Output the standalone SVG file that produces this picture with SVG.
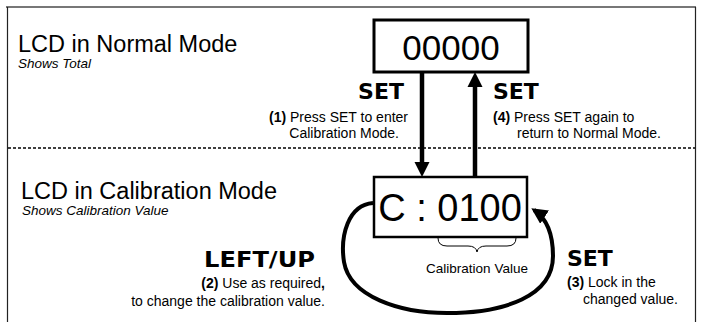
<svg xmlns="http://www.w3.org/2000/svg" width="702" height="322" viewBox="0 0 702 322">
<defs>
<style>
.sans{font-family:"Liberation Sans",Arial,sans-serif;fill:#000}
.vb{font-family:"DejaVu Sans",Verdana,sans-serif;font-weight:bold;font-size:22px;fill:#000}
.title{font-size:23.5px}
.sub{font-size:13.5px;font-style:italic}
.note{font-size:14px}
.box{fill:#fff;stroke:#000}
.shaft{stroke:#000;stroke-width:4.5;fill:none}
.loop{stroke:#000;stroke-width:4;fill:none}
</style>
<marker id="ah" markerWidth="4" markerHeight="4" refX="3.2" refY="2" orient="auto" markerUnits="strokeWidth">
<path d="M0,0 L4,2 L0,4 Z" fill="#000"/>
</marker>
</defs>
<rect width="702" height="322" fill="#fff"/>
<g id="frame">
<line x1="6" y1="7" x2="696" y2="7" stroke="#777" stroke-width="2"/>
<line x1="7.5" y1="7" x2="7.5" y2="322" stroke="#222" stroke-width="1.2"/>
<line x1="695.5" y1="7" x2="695.5" y2="322" stroke="#222" stroke-width="1.2"/>
<line x1="8" y1="148" x2="695" y2="148" stroke="#000" stroke-width="1.3" stroke-dasharray="3,2"/>
</g>
<g id="labels">
<text class="sans title" x="18" y="52">LCD in Normal Mode</text>
<text class="sans sub" x="18" y="68">Shows Total</text>
<text class="sans title" x="21" y="199">LCD in Calibration Mode</text>
<text class="sans sub" x="22" y="215" font-size="13">Shows Calibration Value</text>
</g>
<g id="normal-lcd">
<rect class="box" x="374" y="20" width="154" height="52" stroke-width="3"/>
<text class="sans" x="451" y="60" font-size="35" text-anchor="middle">00000</text>
</g>
<g id="calib-lcd">
<rect class="box" x="374" y="177" width="153" height="60" stroke-width="2.5"/>
<text class="sans" x="450" y="221" font-size="38" text-anchor="middle">C : 0100</text>
<path d="M438,238 Q438,246 447,246 L468,246 Q476,246 477,252 Q478,246 486,246 L507,246 Q516,246 516,238" fill="none" stroke="#000" stroke-width="1"/>
<text class="sans" x="477" y="273" font-size="13.5" text-anchor="middle">Calibration Value</text>
</g>
<g id="connectors">
<line class="shaft" x1="422" y1="72" x2="422" y2="164"/>
<polygon points="414.5,162 429.5,162 422,177"/>
<line class="shaft" x1="475" y1="177" x2="475" y2="85"/>
<polygon points="467.5,87 482.5,87 475,72"/>
<path class="loop" d="M373,203 C348,205 340,236 344,262 C350,297 400,313 447,313 C505,313 553,296 553,256 C553,232 546,218 534,210" marker-end="url(#ah)"/>
</g>
<g id="step1">
<text class="vb" x="404" y="99" text-anchor="end">SET</text>
<text class="sans note" x="408" y="122" text-anchor="end"><tspan font-weight="bold">(1)</tspan> Press SET to enter</text>
<text class="sans note" x="399" y="138" text-anchor="end">Calibration Mode.</text>
</g>
<g id="step4">
<text class="vb" x="493" y="99">SET</text>
<text class="sans note" x="493" y="122"><tspan font-weight="bold">(4)</tspan> Press SET again to</text>
<text class="sans note" x="517" y="138">return to Normal Mode.</text>
</g>
<g id="step2">
<text class="vb" x="315" y="267" text-anchor="end" font-size="23" textLength="111" lengthAdjust="spacingAndGlyphs">LEFT/UP</text>
<text class="sans note" x="325" y="288" text-anchor="end"><tspan font-weight="bold">(2)</tspan> Use as required<tspan font-weight="bold">,</tspan></text>
<text class="sans note" x="325" y="306" text-anchor="end">to change the calibration value.</text>
</g>
<g id="step3">
<text class="vb" x="567" y="266">SET</text>
<text class="sans note" x="567" y="287"><tspan font-weight="bold">(3)</tspan> Lock in the</text>
<text class="sans note" x="583" y="304">changed value.</text>
</g>
</svg>
